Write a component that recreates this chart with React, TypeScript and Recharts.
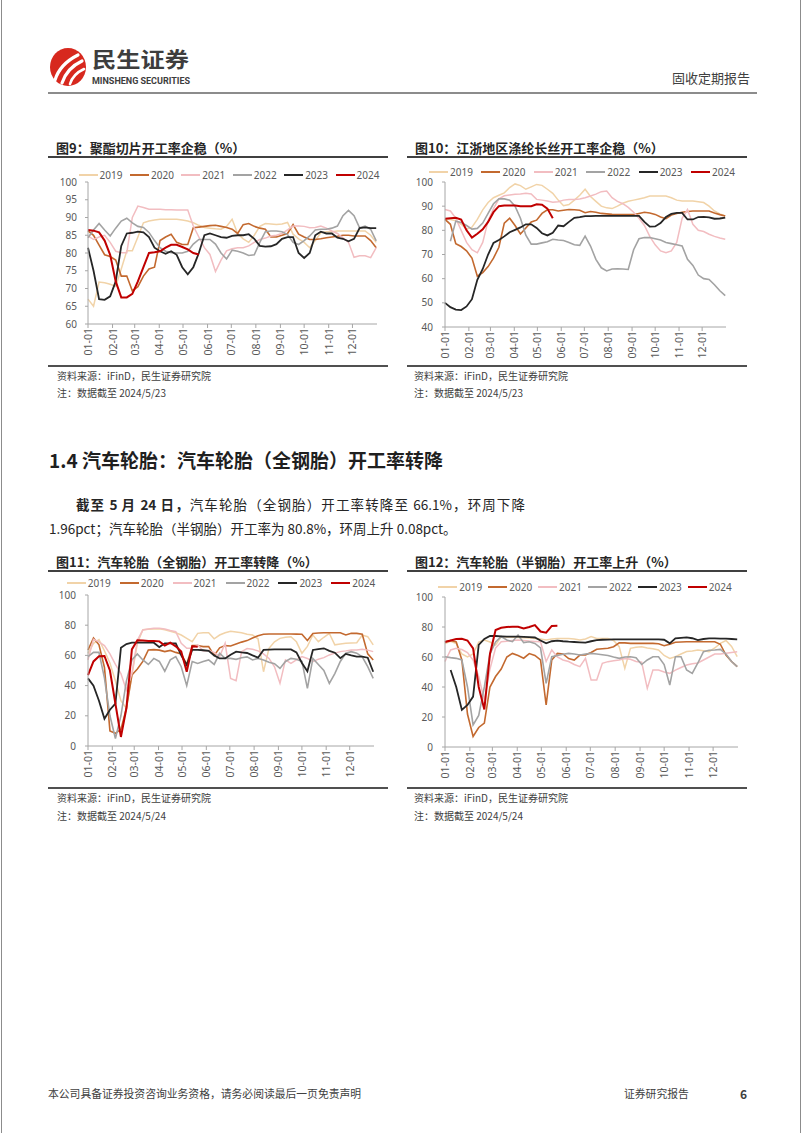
import React from 'react';
import { LineChart, Line, XAxis, YAxis } from 'recharts';

const days = [0, 7, 14, 21, 28, 35, 42, 49, 56, 63, 70, 77, 84, 91, 98, 105, 112, 119, 126, 133, 140, 147, 154, 161, 168, 175, 182, 189, 196, 203, 210, 217, 224, 231, 238, 245, 252, 259, 266, 273, 280, 287, 294, 301, 308, 315, 322, 329, 336, 343, 350, 357, 364];
const monthTicks = [0, 31, 59, 90, 120, 151, 181, 212, 243, 273, 304, 334];
const monthLabels = ['01-01', '02-01', '03-01', '04-01', '05-01', '06-01', '07-01', '08-01', '09-01', '10-01', '11-01', '12-01'];
const years = ['2019', '2020', '2021', '2022', '2023', '2024'];

// 图9 聚酯切片开工率
const p9_2019 = [67, 65, 71.8, 71.6, 71.2, 70.6, 75.5, 80.6, 80.6, 84.5, 88.5, 89, 89.3, 89.5, 89.5, 89.5, 89.5, 89.3, 89, 88.5, 87.8, 87.2, 87, 86.8, 86.7, 87.5, 89.5, 85.5, 84, 83, 85, 87.5, 88.3, 88.2, 88, 88.2, 88.6, 85.3, 84, 83, 81.5, 83.5, 85.7, 86, 86, 86.2, 86.2, 86.2, 86.2, 86.2, 86.2, 85, 83];
const p9_2020 = [86.2, 85, 82.2, 79.5, 79, 78, 73.5, 73.5, 69.3, 70.5, 73.5, 75.5, 76, 83.5, 84.5, 85.3, 83, 82.4, 82.4, 87.1, 87.3, 87.5, 87.7, 87.8, 87.5, 87.2, 86.7, 85.5, 88, 88.3, 87.5, 87, 86.7, 84.5, 84.5, 85, 85.5, 88, 85.3, 84.5, 83.8, 83.8, 84, 84.3, 84.5, 84.7, 85, 85, 84.8, 84.8, 84.8, 83.5, 81.5];
const p9_2021 = [84.8, 83.8, 84.5, 85, 83, 80.5, 80.1, 80.1, 90, 93.2, 92.8, 92.3, 92.3, 92.3, 92.2, 92.2, 92.1, 92.1, 92.1, 87.6, 84.5, 81.5, 79.6, 74.8, 78, 80.6, 81.2, 81.5, 81.5, 82, 83, 83.8, 84.2, 84.8, 85, 85.5, 86.5, 87.6, 87.6, 87.5, 87.1, 87.2, 87.6, 87, 86.2, 85.5, 84.3, 83, 78.8, 79.2, 79.2, 78.7, 81.5];
const p9_2022 = [84.3, 86.5, 88.3, 86.5, 84.8, 87, 89, 89.8, 88.5, 87.5, 87.2, 85.8, 83.5, 81.5, 80.5, 80.1, 80, 80, 80.5, 82.5, 83.8, 83.8, 83.8, 82.5, 80, 78.3, 80.8, 80.5, 80, 79.3, 79.5, 83, 86, 86.2, 86.2, 86, 85.2, 83, 82.4, 83.5, 84.8, 86.5, 86.7, 86.7, 87, 87.6, 90.5, 92, 90.5, 87.1, 87.6, 86.7, 83.4];
const p9_2023 = [81.5, 75, 67, 66.8, 67.8, 72, 82, 85.5, 85.7, 86, 85.8, 84.5, 81.5, 80.5, 79.8, 80.5, 79.5, 76, 74, 76, 80, 85, 85.5, 85, 84.5, 84.3, 84.8, 85, 85, 85.3, 84, 82, 81.8, 81.9, 82.5, 84, 84.5, 84.5, 80, 78.6, 80, 85, 86, 85.5, 85.5, 84.3, 84, 83.3, 84, 87, 87.2, 87, 87];
const p9_2024 = [86.5, 86.3, 85.8, 83.5, 79.5, 72, 67.5, 67.5, 68.5, 72, 76, 80, 80.2, 80.5, 81.5, 82.3, 82.3, 81.7, 81, 80, 79.6];

// 图10 江浙地区涤纶长丝开工率
const p10_2019 = [84.8, 84.5, 84, 82.5, 80.5, 81.3, 84.5, 88.5, 91.5, 93.5, 94.5, 95.5, 97.7, 99.2, 98.5, 97, 98, 99, 98.6, 97, 95.3, 92.5, 90.2, 90.7, 92.5, 94.5, 97, 94, 92, 90, 89.3, 89, 90, 91.2, 92, 92.5, 93, 93.5, 94.2, 94.2, 94.2, 94.2, 93.5, 92.5, 92.1, 92.1, 92.1, 91.8, 91.5, 90, 88, 86.8, 86];
const p10_2020 = [84.5, 82.5, 74.5, 73.3, 71.5, 68.5, 61, 62.5, 65, 68.5, 73, 83, 85, 82, 78.5, 81, 83.5, 84.2, 87, 88.5, 88.5, 88, 88.3, 88.6, 88.5, 88.3, 87.3, 87.8, 87.5, 87, 86.8, 86.6, 86.5, 86.5, 86.5, 86.5, 87, 87.5, 87.2, 86.6, 85.5, 84.8, 86.3, 87, 87.5, 87.8, 88, 88, 88, 88, 87.2, 86.5, 85.9];
const p10_2021 = [88.6, 88, 85, 80, 75, 72, 70.7, 75, 84, 89, 93, 94.3, 94.6, 94.9, 95, 95.3, 95, 92.8, 92.5, 92.1, 91.6, 91.8, 92.5, 92.8, 92.8, 93, 93.5, 94.2, 95, 96, 96.3, 93.5, 92, 91, 89.5, 87.5, 85, 82, 77.5, 74, 71.5, 70.7, 71.5, 75, 85, 88.6, 82.5, 80, 79.5, 78.4, 77.5, 76.8, 76.3];
const p10_2022 = [null, 75.5, 83.8, 83.2, 82, 80.5, 80.8, 83, 87, 91, 93, 93, 92.5, 90, 85, 78, 74.3, 74.3, 74.8, 75.3, 76.3, 76, 75.8, 75, 74, 73.8, 77.6, 73.5, 68, 64.5, 63.2, 64, 64.1, 64, 63.8, 72, 76.5, 77, 77, 76.5, 76, 75, 74.5, 74, 73.5, 68, 65.5, 61.5, 60, 59.7, 57.5, 55, 53];
const p10_2023 = [50, 48.2, 47.2, 47, 48.5, 51.5, 59.5, 64, 70, 74.8, 76, 77.5, 79.2, 80.2, 81.2, 82.5, 82.5, 81, 78.8, 77.9, 79, 82, 81.7, 83.5, 85.2, 85.5, 85.9, 85.9, 86, 86, 86, 86, 86, 86, 86, 86, 86, 83.5, 81.5, 81.6, 83, 85.5, 86.8, 87.2, 87.2, 84.5, 84.5, 85.5, 85.6, 85.4, 84.8, 84.9, 85.3];
const p10_2024 = [84.8, 85, 85.2, 84.5, 80, 77, 78.6, 80.4, 83.5, 87.5, 90, 90.3, 90.3, 90.3, 90, 90, 90, 90.8, 90.6, 89, 85];

// 图11 汽车轮胎（全钢胎）开工率
const p11_2019 = [61.4, 68, 70.5, 63, 55, 43, 30, 25, 47, 68, 77, 77.3, 77.5, 77.7, 77, 76, 75, 73.5, 71.3, 69.1, 74.6, 75, 75, 71, 73.5, 75, 76, 75.5, 75, 74, 73.5, 71, 49.2, 64.7, 69, 71.3, 72, 72.4, 69, 61.4, 66, 73.5, 69.1, 72, 74.6, 67, 67.5, 68, 68.2, 68.4, 73.5, 72.4, 67];
const p11_2020 = [63.6, 71.5, 67, 52, 10, 8.4, 11, 25, 47, 51, 56, 63.6, 63.8, 63.5, 62.5, 63.3, 62, 61, 54, 66.5, 66.5, 65.8, 65.8, 60, 65, 66.5, 66.2, 67.5, 68.8, 69.8, 71.5, 73, 74, 74.2, 74.2, 74.2, 74.2, 74.2, 74.1, 74, 69.8, 74.5, 74.8, 75, 75, 75, 75, 73.5, 74.6, 74.6, 74, 61, 57];
const p11_2021 = [57, 70.6, 69, 66.5, 61, 54, 48, 37, 48, 70, 76.8, 77.5, 78, 78, 77.5, 76.5, 75.7, 68, 64.7, 64.7, 66.9, 63, 63.3, 62, 59.2, 68, 44.8, 43.3, 62.5, 64.5, 64, 63, 61, 58, 52.5, 41.5, 57, 54.7, 57, 59.2, 58, 55.8, 57.5, 58.5, 60.3, 61.5, 62.5, 63, 63.6, 63.6, 64, 63.5, 62.5];
const p11_2022 = [59.2, 62, 62, 45, 20, 5, 20, 43, 57, 61, 57, 54, 58, 56, 49.5, 57, 59.2, 52.5, 40, 56, 54.7, 56, 57, 54, 61.4, 58, 58, 57.4, 58.5, 59, 57, 58, 57, 55.5, 54.5, 51.4, 56, 58, 57.5, 56, 38.2, 58, 54, 50, 41.5, 48, 56, 61.4, 62.5, 61.5, 59, 52.5, 44.8];
const p11_2023 = [44.8, 40, 30, 18, 24, 28, 65, 67.5, 68.4, 68.4, 68.4, 68.4, 68.4, 65.5, 68, 68, 68, 60, 53.6, 63.6, 63.6, 63.4, 63, 60, 58, 58, 60.5, 62.5, 62, 61.6, 60, 58.5, 63.6, 63.8, 64, 64, 64, 64, 62, 55, 49.5, 63.6, 64.2, 64.7, 63, 61.8, 58.2, 61, 60, 59.2, 59.2, 58.5, 49.2];
const p11_2024 = [47, 56, 59.5, 59.6, 50, 28, 6, 25, 64, 70, 69.8, 69.6, 69.5, 69.3, 66.5, 68.4, 66, 62.5, 49.2, 66, 65.8];

// 图12 汽车轮胎（半钢胎）开工率
const p12_2019 = [69, 70.5, 69, 62, 60, 62, 70, 71.3, 70, 68, 73.5, 73.3, 73.1, 73, 72.8, 72.6, 72.4, 72, 71.3, 72, 72.4, 72.4, 72.4, 72, 71.3, 72, 73.6, 72.4, 72.4, 72.4, 71, 66.9, 52.4, 65.8, 66.5, 66.9, 66, 65.5, 64.7, 61, 59.1, 60.2, 62, 63.6, 64, 64.7, 64.2, 63.6, 66, 69.1, 71, 67, 60.2];
const p12_2020 = [70.2, 71, 70, 58, 22, 7, 13, 16, 40, 47, 52, 60, 62.4, 61, 59.2, 62.3, 61, 58, 28, 58, 62.4, 62, 59, 58, 61.3, 61.3, 63, 65.2, 65.5, 65.8, 66.9, 69.5, 69.4, 69.1, 69.1, 69.1, 69.1, 69.1, 68.8, 67.5, 68.5, 69.8, 70, 70.2, 70.2, 70.2, 70.2, 70.2, 70.2, 68.5, 61.3, 57, 53.6];
const p12_2021 = [57, 64.7, 65.8, 65, 63, 58, 47, 31, 52, 66, 70.2, 70.5, 71, 71.3, 71, 70.6, 70.4, 70.2, 57, 64.7, 60, 58, 57, 55, 53.6, 59.1, 44.7, 44.7, 55.8, 56.9, 57.5, 58, 59, 58.5, 57, 56.5, 39.1, 51.3, 51.3, 50, 49.1, 51.3, 53, 54.7, 55.5, 56, 58, 60, 62, 62, 62.5, 63, 63.5];
const p12_2022 = [60.2, 59.6, 59.1, 58, 40, 14.7, 21, 40, 62, 70, 73.6, 71.3, 70.2, 74.7, 69.6, 70.2, 69, 66, 42.4, 60.2, 61, 61.8, 62.4, 62, 61.3, 62, 62.4, 62, 61.5, 61, 60, 59.1, 60, 60.2, 59.5, 55, 58, 60.2, 60.2, 55, 41.3, 60.2, 60.2, 51.3, 49.1, 56, 63.6, 64.5, 64.7, 65.1, 62, 57, 53.6];
const p12_2023 = [null, 51.3, 40, 24.7, 28, 33.6, 68, 72, 74, 74, 73.8, 73.6, 73.6, 73.6, 73.4, 73.2, 73, 71, 69.1, 70.5, 70.9, 70.5, 70.2, 70, 69.8, 69.6, 70.5, 71.3, 71.5, 71.6, 71.7, 71.8, 71.8, 71.8, 71.8, 71.8, 71.8, 71.8, 71.8, 71.5, 69.1, 72.4, 72.8, 73.1, 72.5, 71.3, 72, 72.4, 72.4, 72.3, 72.2, 72, 71.8];
const p12_2024 = [70, 71, 72, 72.2, 71, 65.8, 40, 25, 62, 78, 79.5, 80, 80.2, 80.2, 79, 80, 81.3, 77, 76.2, 80.7, 80.8];

const ticks9 = [60, 65, 70, 75, 80, 85, 90, 95, 100];
const ticks10 = [40, 50, 60, 70, 80, 90, 100];
const ticks11 = [0, 20, 40, 60, 80, 100];

const yearColors = ['#F1D3A8', '#C3692F', '#F2BDC1', '#A3A3A3', '#262626', '#C00000'];
const yearWidths = [1.5, 1.6, 1.5, 1.6, 1.8, 2];

const NUM_FONT = "'Noto Sans', 'DejaVu Sans', sans-serif";
const CJK_FONT = "'Noto Sans CJK SC', 'Noto Sans', sans-serif";
const AXIS = '#A6A6A6';
const TICK = '#595959';

const MonthTick = (props: any) => {
  const { x, y, payload } = props;
  const idx = monthTicks.indexOf(payload.value);
  return (
    <text
      x={0}
      y={0}
      transform={`translate(${x},${y}) rotate(-90)`}
      textAnchor="end"
      dominantBaseline="central"
      fontSize={10.5}
      fill={TICK}
      fontFamily={NUM_FONT}
    >
      {monthLabels[idx]}
    </text>
  );
};

type ChartProps = {
  series: (number | null)[][];
  plotLeft: number;
  plotTop: number;
  plotW: number;
  plotH: number;
  yDomain: [number, number];
  yTicks: number[];
  yGap: number;
};

function YearChart({ series, plotLeft, plotTop, plotW, plotH, yDomain, yTicks, yGap }: ChartProps) {
  const rows = days.map((d, i) => {
    const r: any = { day: d };
    years.forEach((y, k) => {
      const v = series[k][i];
      r['y' + y] = v === undefined ? null : v;
    });
    return r;
  });
  const yAxisW = 40;
  const margin = { top: 6, right: 6, left: 0, bottom: 0 };
  const xAxisH = 40;
  return (
    <div style={{ position: 'absolute', left: plotLeft - yAxisW, top: plotTop - margin.top }}>
      <LineChart
        width={plotW + yAxisW + margin.right}
        height={plotH + margin.top + xAxisH}
        data={rows}
        margin={margin}
      >
        <XAxis
          dataKey="day"
          type="number"
          domain={[0, 365]}
          ticks={monthTicks}
          interval={0}
          height={xAxisH}
          stroke={AXIS}
          tickSize={4}
          tickMargin={0}
          tick={(p: any) => <MonthTick {...p} />}
        />
        <YAxis
          type="number"
          domain={yDomain}
          ticks={yTicks}
          interval={0}
          width={yAxisW}
          stroke={AXIS}
          tickSize={3}
          tickMargin={yGap}
          tick={{ fill: TICK, fontSize: 10, fontFamily: NUM_FONT }}
        />
        {years.map((y, k) => (
          <Line
            key={y}
            type="linear"
            dataKey={'y' + y}
            stroke={yearColors[k]}
            strokeWidth={yearWidths[k]}
            dot={false}
            activeDot={false}
            connectNulls={false}
            isAnimationActive={false}
          />
        ))}
      </LineChart>
    </div>
  );
}

function YearLegend({ cx, cy, gap }: { cx: number; cy: number; gap: number }) {
  return (
    <div
      style={{
        position: 'absolute',
        left: cx - 200,
        top: cy - 7,
        width: 400,
        height: 14,
        display: 'flex',
        justifyContent: 'center',
        alignItems: 'center',
      }}
    >
      {years.map((y, k) => (
        <div key={y} style={{ display: 'flex', alignItems: 'center', marginRight: k < years.length - 1 ? gap : 0 }}>
          <div style={{ width: 19, height: yearWidths[k] + 0.2, background: yearColors[k], marginRight: 2 }} />
          <span style={{ fontSize: 10, color: TICK, fontFamily: NUM_FONT, lineHeight: '14px' }}>{y}</span>
        </div>
      ))}
    </div>
  );
}

function Txt({ x, cy, size, bold, color, children, style }: any) {
  return (
    <div
      style={{
        position: 'absolute',
        left: x,
        top: cy - size * 0.7,
        height: size * 1.4,
        lineHeight: size * 1.4 + 'px',
        fontSize: size,
        fontWeight: bold ? 700 : 400,
        color: color || '#262626',
        fontFamily: CJK_FONT,
        whiteSpace: 'nowrap',
        ...style,
      }}
    >
      {children}
    </div>
  );
}

function Rule({ x1, x2, y, h, color }: any) {
  return <div style={{ position: 'absolute', left: x1, top: y - h / 2, width: x2 - x1, height: h, background: color }} />;
}

function Panel({ title, tx, ty, lineX1, lineX2, lineY, bottomY, srcX, srcY, note }: any) {
  return (
    <>
      <Txt x={tx} cy={ty} size={13} bold color="#262626">{title}</Txt>
      <Rule x1={lineX1} x2={lineX2} y={lineY} h={2} color="#404040" />
      <Rule x1={lineX1} x2={lineX2} y={bottomY} h={1.5} color="#505050" />
      <Txt x={srcX} cy={srcY} size={10} color="#404040">资料来源：iFinD，民生证券研究院</Txt>
      <Txt x={srcX} cy={srcY + 17.5} size={10} color="#404040">{note}</Txt>
    </>
  );
}

export default function App() {
  return (
    <div
      style={{
        position: 'absolute',
        left: 0,
        top: 0,
        width: 802,
        height: 1133,
        background: '#fff',
        overflow: 'hidden',
        fontFamily: CJK_FONT,
      }}
    >
      <div style={{ position: 'absolute', left: 1, top: 0, width: 1, height: 1133, background: '#8c8c8c' }} />
      <div style={{ position: 'absolute', left: 800, top: 0, width: 1, height: 1133, background: '#8c8c8c' }} />

      {/* header */}
      <svg style={{ position: 'absolute', left: 0, top: 0 }} width={802} height={100}>
        <ellipse cx={68} cy={67} rx={18} ry={19} fill="#D7281E" />
        <path d="M55,80 Q60,64 78,55" stroke="#fff" strokeWidth={3.2} fill="none" strokeLinecap="round" />
        <path d="M62,83 Q67,68 82,61" stroke="#fff" strokeWidth={3.2} fill="none" strokeLinecap="round" />
        <path d="M70,84 Q73,74 84,69" stroke="#fff" strokeWidth={2.6} fill="none" strokeLinecap="round" />
        <text x={92} y={67} fontSize={21} fontWeight={700} fill="#3d3d3d" fontFamily={CJK_FONT} textLength={97} lengthAdjust="spacingAndGlyphs">民生证券</text>
        <text x={92} y={84} fontSize={8.5} fontWeight={700} fill="#3d3d3d" fontFamily="'Roboto', 'Noto Sans', sans-serif" textLength={98} lengthAdjust="spacingAndGlyphs">MINSHENG SECURITIES</text>
      </svg>
      <Txt x={672} cy={78} size={13} color="#404040">固收定期报告</Txt>
      <Rule x1={48} x2={757} y={92.5} h={2} color="#8c8c8c" />

      {/* Figure 9 */}
      <Panel title="图9：聚酯切片开工率企稳（%）" tx={56} ty={148.5} lineX1={48} lineX2={388} lineY={156.5} bottomY={366} srcX={57} srcY={375.5} note="注：数据截至 2024/5/23" />
      <YearLegend cx={229} cy={175} gap={7.5} />
      <YearChart
        series={[p9_2019, p9_2020, p9_2021, p9_2022, p9_2023, p9_2024]}
        plotLeft={88}
        plotTop={182}
        plotW={289}
        plotH={142}
        yDomain={[60, 100]}
        yTicks={ticks9}
        yGap={8}
      />

      {/* Figure 10 */}
      <Panel title="图10：江浙地区涤纶长丝开工率企稳（%）" tx={415} ty={148.5} lineX1={407} lineX2={747} lineY={156.5} bottomY={366} srcX={414} srcY={375.5} note="注：数据截至 2024/5/23" />
      <YearLegend cx={582} cy={172} gap={8.5} />
      <YearChart
        series={[p10_2019, p10_2020, p10_2021, p10_2022, p10_2023, p10_2024]}
        plotLeft={445}
        plotTop={182}
        plotW={281}
        plotH={145}
        yDomain={[40, 100]}
        yTicks={ticks10}
        yGap={9}
      />

      {/* Section text */}
      <Txt x={49} cy={460} size={19} bold color="#1f1f1f">1.4 汽车轮胎：汽车轮胎（全钢胎）开工率转降</Txt>
      <div
        style={{
          position: 'absolute',
          left: 76,
          top: 504 - 10,
          width: 449,
          height: 20,
          lineHeight: '20px',
          fontSize: 13.5,
          color: '#262626',
          fontFamily: CJK_FONT,
          whiteSpace: 'nowrap',
          textAlign: 'justify',
          textAlignLast: 'justify',
        }}
      >
        <b>截至 5 月 24 日，</b>汽车轮胎（全钢胎）开工率转降至 66.1%，环周下降
      </div>
      <Txt x={49} cy={528} size={13.5} color="#262626">1.96pct；汽车轮胎（半钢胎）开工率为 80.8%，环周上升 0.08pct。</Txt>

      {/* Figure 11 */}
      <Panel title="图11：汽车轮胎（全钢胎）开工率转降（%）" tx={56} ty={562.5} lineX1={48} lineX2={388} lineY={571} bottomY={788} srcX={57} srcY={798} note="注：数据截至 2024/5/24" />
      <YearLegend cx={221} cy={583} gap={9} />
      <YearChart
        series={[p11_2019, p11_2020, p11_2021, p11_2022, p11_2023, p11_2024]}
        plotLeft={88}
        plotTop={595}
        plotW={286}
        plotH={151}
        yDomain={[0, 100]}
        yTicks={ticks11}
        yGap={9}
      />

      {/* Figure 12 */}
      <Panel title="图12：汽车轮胎（半钢胎）开工率上升（%）" tx={415} ty={562.5} lineX1={407} lineX2={747} lineY={571} bottomY={788} srcX={414} srcY={798} note="注：数据截至 2024/5/24" />
      <YearLegend cx={585} cy={587} gap={6} />
      <YearChart
        series={[p12_2019, p12_2020, p12_2021, p12_2022, p12_2023, p12_2024]}
        plotLeft={445}
        plotTop={597}
        plotW={293}
        plotH={150}
        yDomain={[0, 100]}
        yTicks={ticks11}
        yGap={9}
      />

      {/* footer */}
      <Txt x={48} cy={1094} size={10.8} color="#404040">本公司具备证券投资咨询业务资格，请务必阅读最后一页免责声明</Txt>
      <Txt x={624} cy={1094} size={10.8} color="#404040">证券研究报告</Txt>
      <Txt x={740} cy={1094} size={12} bold color="#404040">6</Txt>
    </div>
  );
}
